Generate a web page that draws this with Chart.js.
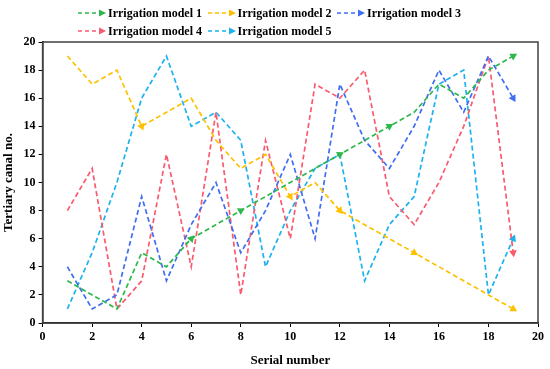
<!DOCTYPE html>
<html>
<head>
<meta charset="utf-8">
<script src="https://cdn.jsdelivr.net/npm/chart.js@4.4.0/dist/chart.umd.min.js"></script>
<style>
  html, body { margin: 0; padding: 0; background: #fff; }
  #wrap { position: relative; width: 550px; height: 369px; }
  #legend { position: absolute; left: 78px; top: 4px; width: 420px; font: bold 12px "Liberation Serif", "Times New Roman", serif; color: #000; line-height: 18px; }
  .item { display: inline-flex; align-items: center; width: 129.5px; height: 18px; white-space: nowrap; vertical-align: top; }
  .item svg { margin-right: 2px; }
</style>
</head>
<body>
<div id="wrap">
  <canvas id="chart" width="550" height="369"></canvas>
  <div id="legend"></div>
</div>
<script>
// serial numbers (x) and the five irrigation models (y)
var serial = [1, 2, 3, 4, 5, 6, 7, 8, 9, 10, 11, 12, 13, 14, 15, 16, 17, 18, 19];
var model1 = [3, 2, 1, 5, 4, 6, 7, 8, 9, 10, 11, 12, 13, 14, 15, 17, 16, 18, 19];
var model2 = [19, 17, 18, 14, 15, 16, 13, 11, 12, 9, 10, 8, 7, 6, 5, 4, 3, 2, 1];
var model3 = [4, 1, 2, 9, 3, 7, 10, 5, 8, 12, 6, 17, 13, 11, 14, 18, 15, 19, 16];
var model4 = [8, 11, 1, 3, 12, 4, 15, 2, 13, 6, 17, 16, 18, 9, 7, 10, 14, 19, 5];
var model5 = [1, 5, 10, 16, 19, 14, 15, 13, 4, 8, 11, 12, 3, 7, 9, 17, 18, 2, 6];
var labels = ["Irrigation model 1", "Irrigation model 2", "Irrigation model 3", "Irrigation model 4", "Irrigation model 5"];

var colors = ["#2DB84C", "#FFC000", "#3F6EF2", "#FA5A6E", "#1BB2EE"];
// where the arrow heads sit on each line (serial numbers)
var arrowsAt = [[6, 8, 12, 14, 19], [4, 10, 12, 15, 19], [19], [19], [19]];

var font = "'Liberation Serif', 'Times New Roman', serif";

function pts(ys) {
  return serial.map(function (s, i) { return { x: s, y: ys[i] }; });
}

function arrowRotation(ctx) {
  var i = ctx.dataIndex;
  if (i === 0) return 0;
  var d = ctx.dataset.data, sx = ctx.chart.scales.x, sy = ctx.chart.scales.y;
  var dx = sx.getPixelForValue(d[i].x) - sx.getPixelForValue(d[i - 1].x);
  var dy = sy.getPixelForValue(d[i].y) - sy.getPixelForValue(d[i - 1].y);
  return Math.atan2(dy, dx) * 180 / Math.PI + 90;
}

var series = [model1, model2, model3, model4, model5];
var datasets = series.map(function (ys, k) {
  return {
    label: labels[k],
    data: pts(ys),
    borderColor: colors[k],
    backgroundColor: colors[k],
    borderWidth: 1.7,
    borderDash: [5, 3],
    pointStyle: "triangle",
    pointRadius: function (ctx) {
      return arrowsAt[k].indexOf(serial[ctx.dataIndex]) >= 0 ? 4.5 : 0;
    },
    pointBorderWidth: 0,
    pointRotation: arrowRotation,
    pointHoverRadius: 0,
    tension: 0
  };
});

var boxPlugin = {
  id: "box",
  afterDraw: function (chart) {
    var a = chart.chartArea, c = chart.ctx;
    c.save();
    c.strokeStyle = "#404040";
    c.lineWidth = 1.5;
    c.strokeRect(a.left, a.top, a.right - a.left, a.bottom - a.top);
    c.restore();
  }
};

new Chart(document.getElementById("chart"), {
  type: "line",
  data: { datasets: datasets },
  options: {
    responsive: false,
    animation: false,
    layout: { padding: { top: 42, right: 12, bottom: 1, left: 1 } },
    plugins: { legend: { display: false }, tooltip: { enabled: false } },
    scales: {
      x: {
        type: "linear", min: 0, max: 20,
        ticks: { stepSize: 2, color: "#000", font: { family: font, size: 12, weight: "bold" }, padding: 3 },
        grid: { display: true, drawOnChartArea: false, drawTicks: true, tickLength: 4, color: "#000" },
        border: { display: true, color: "#000", width: 1.5 },
        title: { display: true, text: "Serial number", color: "#000", font: { family: font, size: 13, weight: "bold" }, padding: { top: 5, bottom: 0 } }
      },
      y: {
        min: 0, max: 20,
        ticks: { stepSize: 2, color: "#000", font: { family: font, size: 12, weight: "bold" }, padding: 3 },
        grid: { display: true, drawOnChartArea: false, drawTicks: true, tickLength: 4, color: "#000" },
        border: { display: true, color: "#000", width: 1.5 },
        title: { display: true, text: "Tertiary canal no.", color: "#000", font: { family: font, size: 13, weight: "bold" }, padding: { top: 0, bottom: 4 } }
      }
    }
  },
  plugins: [boxPlugin]
});

// legend laid out in rows like the original
var leg = document.getElementById("legend");
labels.forEach(function (name, k) {
  var it = document.createElement("span");
  it.className = "item";
  it.innerHTML = '<svg width="28" height="10"><line x1="0" y1="5" x2="22" y2="5" stroke="' + colors[k] +
    '" stroke-width="1.6" stroke-dasharray="4,3"/><polygon points="21,1.5 28,5 21,8.5" fill="' + colors[k] + '"/></svg>';
  it.appendChild(document.createTextNode(name));
  leg.appendChild(it);
  if (k === 2) leg.appendChild(document.createElement("br"));
});
</script>
</body>
</html>
